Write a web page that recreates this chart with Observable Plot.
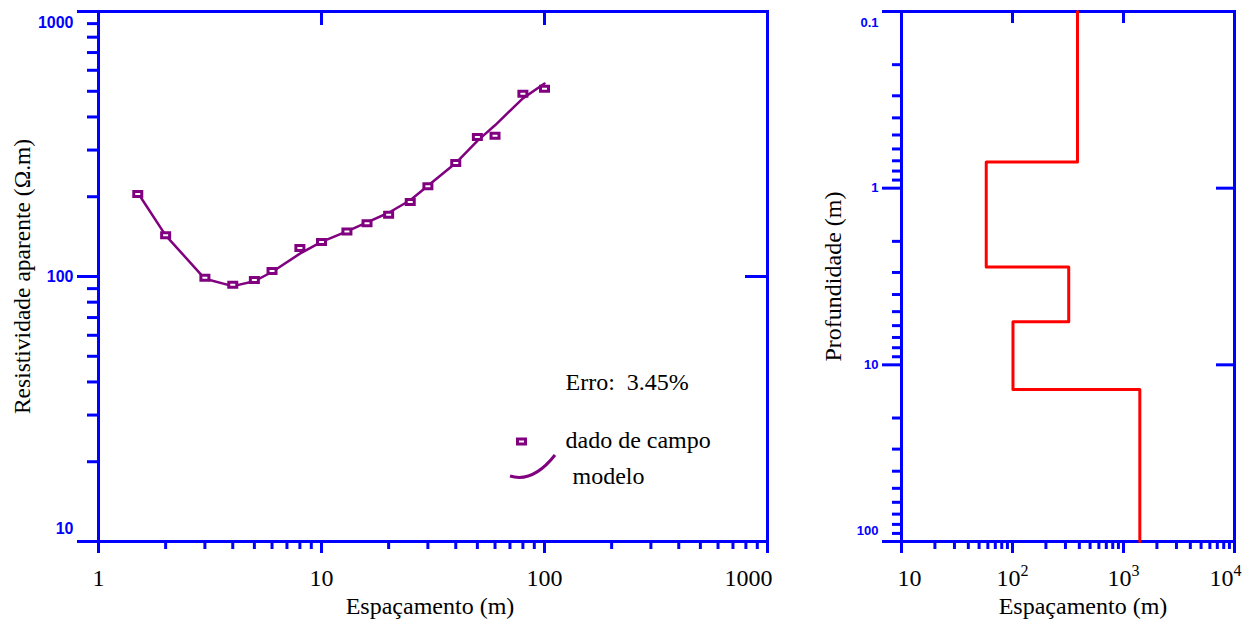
<!DOCTYPE html>
<html><head><meta charset="utf-8">
<script src="https://cdn.jsdelivr.net/npm/d3@7"></script>
<script src="https://cdn.jsdelivr.net/npm/@observablehq/plot@0.6"></script>
<style>
body{margin:0;background:#fff;width:1254px;height:625px;position:relative;overflow:hidden}
#left{position:absolute;left:0;top:0}
#right{position:absolute;left:790px;top:0}
svg{overflow:visible}
</style></head><body>
<div id="left"></div><div id="right"></div>
<script>
// ---- data ----
const spacing   = [1.5, 2, 3, 4, 5, 6, 8, 10, 13, 16, 20, 25, 30, 40, 50, 60, 80, 100];
const rhoField  = [205, 143, 99, 93, 97, 105, 128, 135, 148, 159, 171, 191, 219, 268, 336, 340, 489, 511];
const rhoModel  = [207, 143, 98, 92, 96, 104, 122, 135, 148, 160, 174, 194, 220, 268, 325, 372, 470, 535];
const layerRho        = [385, 58, 321, 101, 1403];
const layerBoundaries = [0.71, 2.79, 5.71, 13.8];
const depthRange      = [0.1, 100];
const leftXTicks  = [1, 10, 100, 1000];
const leftXLabels = ["1", "10", "100", "1000"];
const leftYTicks  = [10, 100, 1000];
const leftYLabels = ["10", "100", "1000"];
const rightXTicks  = [10, 100, 1000, 10000];
const rightXLabels = ["10", "10^2", "10^3", "10^4"];
const rightYTicks  = [0.1, 1, 10, 100];
const rightYLabels = ["0.1", "1", "10", "100"];
const errorText   = "Erro:  3.45%";
const legendField = "dado de campo";
const legendModel = "modelo";
const xTitle = "Espaçamento (m)";
const yTitleLeft = "Resistividade aparente (Ω.m)";
const yTitleRight = "Profundidade (m)";

// ---- helpers ----
const BLUE = "#0000FF", PURPLE = "#800080", RED = "#FF0000";
const SERIF = "'Liberation Serif', 'Times New Roman', serif";
const SANS = "'Liberation Sans', Arial, sans-serif";
const minors = (majors) => majors.slice(0, -1).flatMap(d => [2,3,4,5,6,7,8,9].map(k => k * d));
const rectSym = {draw(ctx) { ctx.rect(-4, -2.5, 8, 5); }};

function xOut(vals, len, H) { return Plot.ruleX(vals, {x: d => d, stroke: BLUE, strokeWidth: 3, insetTop: H, insetBottom: -len}); }
function xInTop(vals, len, H) { return Plot.ruleX(vals, {x: d => d, stroke: BLUE, strokeWidth: 3, insetBottom: H - len}); }
function yOut(vals, len, W) { return Plot.ruleY(vals, {y: d => d, stroke: BLUE, strokeWidth: 3, insetRight: W, insetLeft: -len}); }
function yInRight(vals, len, W) { return Plot.ruleY(vals, {y: d => d, stroke: BLUE, strokeWidth: 3, insetLeft: W - len}); }

const serifText = {fontFamily: SERIF, fontSize: 24, fill: "black", lineAnchor: "middle"};
const blueText = (size) => ({fontFamily: SANS, fontWeight: "bold", fontSize: size, fill: BLUE, textAnchor: "end", lineAnchor: "middle"});

function superscripts(svg) {
  svg.querySelectorAll("text").forEach(t => {
    const m = t.textContent.match(/^(\d+)\^(\d+)$/);
    if (m) {
      t.textContent = m[1];
      const s = document.createElementNS("http://www.w3.org/2000/svg", "tspan");
      s.setAttribute("dy", "-10");
      s.setAttribute("font-size", "16");
      s.textContent = m[2];
      t.appendChild(s);
    }
  });
}

// ---- left panel ----
const LW = 669, LH = 530;
const field = spacing.map((x, i) => ({x, rho: rhoField[i]}));
const model = spacing.map((x, i) => ({x, rho: rhoModel[i]}));
const lx = leftXTicks.map((t, i) => ({t, s: leftXLabels[i]}));
const ly = leftYTicks.map((t, i) => ({t, s: leftYLabels[i]}));

const legendCurve = (index, scales, values, dim) => {
  const x0 = dim.marginLeft, y0 = dim.marginTop;
  const p = document.createElementNS("http://www.w3.org/2000/svg", "path");
  p.setAttribute("d", `M${x0+412},${y0+465} Q${x0+435},${y0+472} ${x0+457},${y0+444}`);
  p.setAttribute("fill", "none");
  p.setAttribute("stroke", PURPLE);
  p.setAttribute("stroke-width", "3");
  return p;
};

const left = Plot.plot({
  width: 790, height: 625,
  marginLeft: 98, marginRight: 23, marginTop: 11, marginBottom: 84,
  x: {type: "log", domain: [1, 1000], axis: null},
  y: {type: "log", domain: [10, 1000], axis: null},
  marks: [
    Plot.frame({stroke: BLUE, strokeWidth: 3}),
    xOut(leftXTicks, 12, LH),
    xOut(minors(leftXTicks), 8, LH),
    xInTop(leftXTicks.slice(1, -1), 14, LH),
    yOut(leftYTicks, 21, LW),
    yOut(minors(leftYTicks), 11, LW),
    yInRight(leftYTicks.slice(1, -1), 22, LW),
    // x tick labels
    Plot.text(lx.slice(0, -1), {x: "t", text: "s", frameAnchor: "bottom", dy: 37, ...serifText}),
    Plot.text(lx.slice(-1), {x: "t", text: "s", frameAnchor: "bottom", dy: 37, dx: 5, textAnchor: "end", ...serifText}),
    // y tick labels
    Plot.text(ly.slice(1, -1), {y: "t", text: "s", frameAnchor: "left", dx: -25, ...blueText(16)}),
    Plot.text(ly.slice(-1), {y: "t", text: "s", frameAnchor: "left", dx: -25, dy: 11, ...blueText(16)}),
    Plot.text(ly.slice(0, 1), {y: "t", text: "s", frameAnchor: "left", dx: -25, dy: -13, ...blueText(16)}),
    // titles
    Plot.text([xTitle], {frameAnchor: "bottom", dx: -3, dy: 65, ...serifText}),
    Plot.text([yTitleLeft], {frameAnchor: "left", dx: -76, rotate: -90, textAnchor: "middle", ...serifText, fontSize: 23.5}),
    // data
    Plot.line(model, {x: "x", y: "rho", stroke: PURPLE, strokeWidth: 2.5}),
    Plot.dot(field, {x: "x", y: "rho", symbol: rectSym, stroke: PURPLE, fill: "white", strokeWidth: 3}),
    // annotation & legend
    Plot.text([errorText], {frameAnchor: "top-left", dx: 467, dy: 371, textAnchor: "start", text: d => d.replace(/ /g, "\u00a0"), ...serifText}),
    Plot.dot([legendField], {frameAnchor: "top-left", dx: 423, dy: 430, symbol: rectSym, stroke: PURPLE, fill: "white", strokeWidth: 3}),
    Plot.text([legendField], {frameAnchor: "top-left", dx: 467, dy: 429, textAnchor: "start", ...serifText}),
    legendCurve,
    Plot.text([legendModel], {frameAnchor: "top-left", dx: 474, dy: 465, textAnchor: "start", ...serifText})
  ]
});
document.getElementById("left").append(left);

// ---- right panel ----
const RW = 333, RH = 530;
const tops = [depthRange[0], ...layerBoundaries];
const bottoms = [...layerBoundaries, depthRange[1]];
const profile = layerRho.flatMap((r, i) => [{rho: r, depth: tops[i]}, {rho: r, depth: bottoms[i]}]);
const rx = rightXTicks.map((t, i) => ({t, s: rightXLabels[i]}));
const ry = rightYTicks.map((t, i) => ({t, s: rightYLabels[i]}));

const right = Plot.plot({
  width: 464, height: 625,
  marginLeft: 111, marginRight: 20, marginTop: 11, marginBottom: 84,
  x: {type: "log", domain: [10, 10000], axis: null},
  y: {type: "log", domain: depthRange, reverse: true, axis: null},
  marks: [
    Plot.frame({stroke: BLUE, strokeWidth: 3}),
    xOut(rightXTicks, 12, RH),
    xOut(minors(rightXTicks), 8, RH),
    xInTop(rightXTicks.slice(1, -1), 12, RH),
    yOut(rightYTicks, 19, RW),
    yOut(minors(rightYTicks), 9, RW),
    yInRight(rightYTicks.slice(1, -1), 18, RW),
    Plot.text(rx.slice(0, 1), {x: "t", text: "s", frameAnchor: "bottom", dy: 37, dx: -4, textAnchor: "start", ...serifText}),
    Plot.text(rx.slice(1, -1), {x: "t", text: "s", frameAnchor: "bottom", dy: 37, ...serifText}),
    Plot.text(rx.slice(-1), {x: "t", text: "s", frameAnchor: "bottom", dy: 37, dx: 7, textAnchor: "end", ...serifText}),
    Plot.text(ry.slice(1, -1), {y: "t", text: "s", frameAnchor: "left", dx: -23, ...blueText(13)}),
    Plot.text(ry.slice(0, 1), {y: "t", text: "s", frameAnchor: "left", dx: -23, dy: 11, ...blueText(13)}),
    Plot.text(ry.slice(-1), {y: "t", text: "s", frameAnchor: "left", dx: -23, dy: -11, ...blueText(13)}),
    Plot.text([xTitle], {frameAnchor: "bottom", dx: 15, dy: 65, ...serifText}),
    Plot.text([yTitleRight], {frameAnchor: "left", dx: -68, rotate: -90, textAnchor: "middle", ...serifText}),
    Plot.line(profile, {x: "rho", y: "depth", stroke: RED, strokeWidth: 3})
  ]
});
superscripts(right);
document.getElementById("right").append(right);
</script>
</body></html>
